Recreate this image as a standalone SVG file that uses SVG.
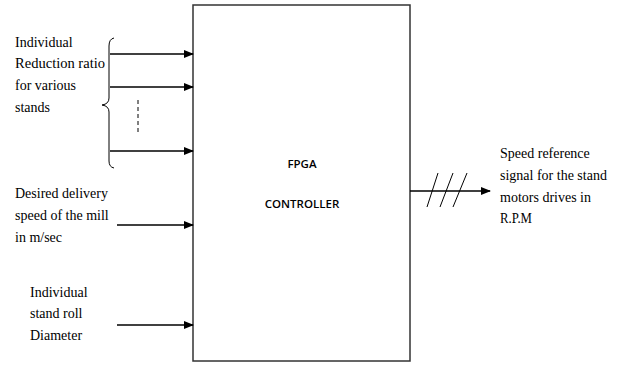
<svg xmlns="http://www.w3.org/2000/svg" width="630" height="365" viewBox="0 0 630 365">
<defs>
<marker id="ah" markerWidth="10" markerHeight="8" refX="9" refY="4" orient="auto" markerUnits="userSpaceOnUse">
<path d="M0,0 L10,4 L0,8 Z" fill="#000"/>
</marker>
<style>
.lbl{font-family:"Liberation Serif","Times New Roman",serif;font-size:14px;fill:#000}
.box{fill:#fff;stroke:#333;stroke-width:1.5}
.ttl{font-family:"Open Sans","Liberation Sans",sans-serif;font-weight:600;font-size:11.5px;fill:#000}
.ln{stroke:#000;stroke-width:1.5;fill:none}
.thin{stroke:#000;stroke-width:1;fill:none}
</style>
</defs>
<rect width="630" height="365" fill="#fff"/>
<g id="controller">
<rect class="box" x="193" y="5" width="217" height="356"/>
<text class="ttl" x="302" y="168" text-anchor="middle">FPGA</text>
<text class="ttl" x="302" y="208" text-anchor="middle">CONTROLLER</text>
</g>
<g id="reduction-ratio">
<text class="lbl" x="15" y="47">Individual</text>
<text class="lbl" x="15" y="68" textLength="90" lengthAdjust="spacingAndGlyphs">Reduction ratio</text>
<text class="lbl" x="15" y="90">for various</text>
<text class="lbl" x="15" y="112">stands</text>
<path class="thin" d="M114,38 Q109,39 109,46 L109,98 Q109,104 102,105 Q109,106 109,112 L109,161 Q109,167 114,168"/>
</g>
<g id="delivery-speed">
<text class="lbl" x="15" y="198">Desired delivery</text>
<text class="lbl" x="15" y="220">speed of the mill</text>
<text class="lbl" x="15" y="242">in m/sec</text>
</g>
<g id="roll-diameter">
<text class="lbl" x="30" y="297">Individual</text>
<text class="lbl" x="30" y="318">stand roll</text>
<text class="lbl" x="30" y="340">Diameter</text>
</g>
<g id="speed-reference">
<text class="lbl" x="500" y="158">Speed reference</text>
<text class="lbl" x="500" y="180">signal for the stand</text>
<text class="lbl" x="500" y="202">motors drives in</text>
<text class="lbl" x="500" y="223" textLength="32" lengthAdjust="spacingAndGlyphs">R.P.M</text>
</g>
<g id="connectors">
<line class="ln" x1="110" y1="54" x2="193" y2="54" marker-end="url(#ah)"/>
<line class="ln" x1="110" y1="87" x2="193" y2="87" marker-end="url(#ah)"/>
<line class="ln" x1="110" y1="151" x2="193" y2="151" marker-end="url(#ah)"/>
<line class="thin" x1="138" y1="100" x2="138" y2="135" stroke-dasharray="4,3"/>
<line class="ln" x1="117" y1="225" x2="193" y2="225" marker-end="url(#ah)"/>
<line class="ln" x1="117" y1="325" x2="193" y2="325" marker-end="url(#ah)"/>
<line class="ln" x1="410" y1="191" x2="490" y2="191" marker-end="url(#ah)"/>
<line class="thin" x1="427" y1="207" x2="438" y2="173"/>
<line class="thin" x1="440" y1="207" x2="453" y2="173"/>
<line class="thin" x1="453" y1="207" x2="467" y2="173"/>
</g>
</svg>
